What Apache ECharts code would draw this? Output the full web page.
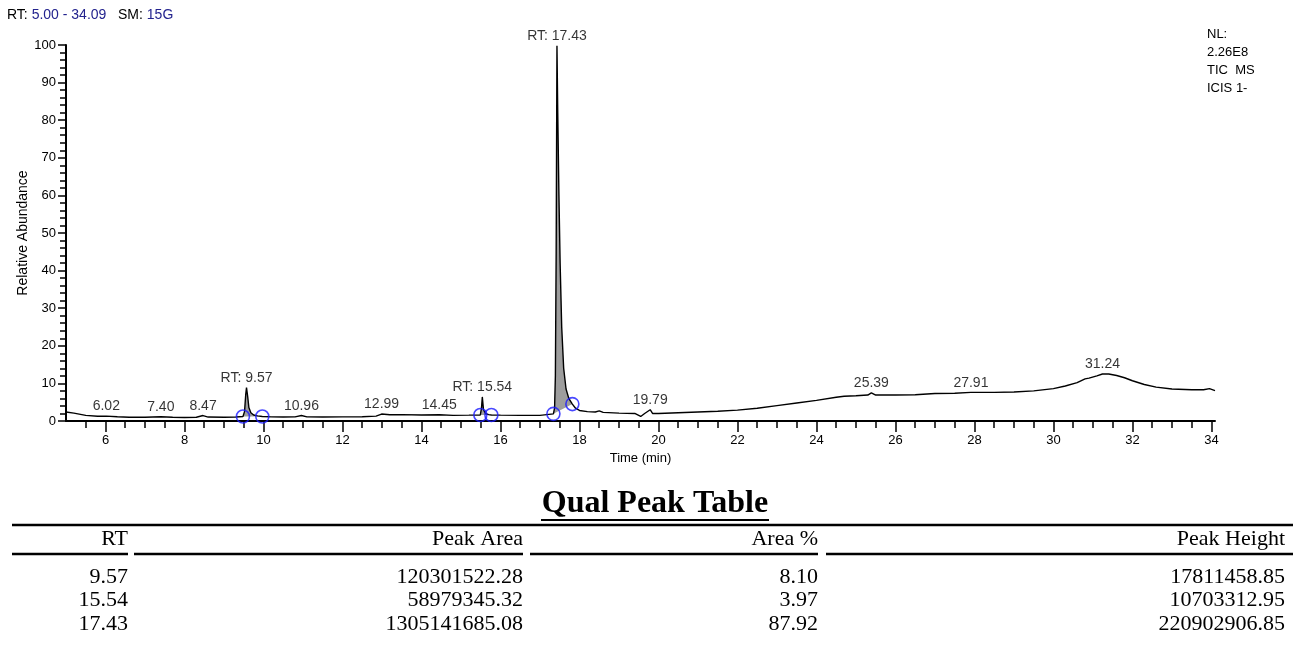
<!DOCTYPE html>
<html>
<head>
<meta charset="utf-8">
<script src="https://cdn.jsdelivr.net/npm/echarts@6/dist/echarts.min.js"></script>
<style>
  html, body { margin: 0; padding: 0; background: #fff; }
  #chart { width: 1293px; height: 646px; }
</style>
</head>
<body>
<div id="chart"></div>
<script>
// TIC trace: retention time (min) / relative abundance (%)
var rtTimes = [5.00, 5.2, 5.5, 5.8, 6.02, 6.3, 6.6, 7.0, 7.4, 7.7, 8.0, 8.3, 8.47, 8.6, 9.0, 9.3,
  9.48, 9.52, 9.55, 9.57, 9.60, 9.63, 9.68, 9.75, 9.85, 9.97,
  10.2, 10.5, 10.8, 10.96, 11.1, 11.5, 12.0, 12.5, 12.85, 12.99, 13.2, 13.5, 14.0, 14.45, 14.8, 15.2,
  15.49, 15.52, 15.54, 15.57, 15.62, 15.7, 15.77,
  16.0, 16.5, 17.0,
  17.34, 17.37, 17.39, 17.41, 17.43, 17.45, 17.48, 17.51, 17.55, 17.60, 17.66, 17.73, 17.82,
  17.9, 18.0, 18.2, 18.4, 18.5, 18.6, 19.0, 19.4, 19.55, 19.65, 19.79, 19.85, 20.0,
  20.5, 21.0, 21.5, 22.0, 22.5, 23.0, 23.5, 24.0, 24.5, 24.7, 25.0, 25.3, 25.39, 25.5, 26.0,
  26.5, 27.0, 27.5, 27.91, 28.5, 29.0, 29.5, 30.0, 30.3, 30.6, 30.8, 30.9, 31.1, 31.24, 31.4,
  31.6, 31.8, 32.0, 32.3, 32.6, 33.0, 33.5, 33.8, 33.95, 34.09];
var rtAbund = [2.4, 2.1, 1.5, 1.25, 1.3, 1.15, 1.0, 1.0, 1.15, 1.0, 0.95, 1.0, 1.45, 1.05, 1.0, 1.05,
  1.2, 2.5, 7.0, 8.9, 6.5, 3.6, 2.2, 1.6, 1.35, 1.2,
  1.1, 1.05, 1.1, 1.45, 1.1, 1.05, 1.1, 1.15, 1.3, 1.85, 1.65, 1.7, 1.6, 1.65, 1.5, 1.55,
  1.6, 3.5, 6.4, 3.0, 2.0, 1.7, 1.6,
  1.55, 1.5, 1.5,
  1.9, 3.5, 12, 45, 99.8, 82, 60, 42, 25, 14, 8.5, 6, 4.5,
  3.4, 2.8, 2.5, 2.4, 2.7, 2.3, 2.1, 2.0, 1.2, 2.0, 3.0, 2.0, 2.0,
  2.2, 2.4, 2.6, 2.9, 3.4, 4.1, 4.8, 5.5, 6.3, 6.6, 6.7, 6.9, 7.5, 6.9, 6.9,
  7.0, 7.3, 7.4, 7.6, 7.6, 7.7, 8.0, 8.6, 9.3, 10.2, 11.2, 11.4, 12.0, 12.5, 12.5,
  12.1, 11.5, 10.7, 9.7, 9.0, 8.5, 8.3, 8.3, 8.6, 8.1];

// integration windows of the quantified peaks
var peakStart = [9.48, 15.49, 17.34];
var peakEnd = [9.97, 15.77, 17.82];

// labelled apexes
var labelTimes = [6.02, 7.40, 8.47, 9.57, 10.96, 12.99, 14.45, 15.54, 17.43, 19.79, 25.39, 27.91, 31.24];
var labelTexts = ['6.02', '7.40', '8.47', 'RT: 9.57', '10.96', '12.99', '14.45', 'RT: 15.54',
  'RT: 17.43', '19.79', '25.39', '27.91', '31.24'];

var xMajorTicks = [6, 8, 10, 12, 14, 16, 18, 20, 22, 24, 26, 28, 30, 32, 34];
var xMinorTicks = [5.5, 6, 6.5, 7, 7.5, 8, 8.5, 9, 9.5, 10, 10.5, 11, 11.5, 12, 12.5, 13, 13.5, 14,
  14.5, 15, 15.5, 16, 16.5, 17, 17.5, 18, 18.5, 19, 19.5, 20, 20.5, 21, 21.5, 22, 22.5, 23, 23.5,
  24, 24.5, 25, 25.5, 26, 26.5, 27, 27.5, 28, 28.5, 29, 29.5, 30, 30.5, 31, 31.5, 32, 32.5, 33,
  33.5, 34];

// Qual Peak Table
var tableHeaders = ['RT', 'Peak Area', 'Area %', 'Peak Height'];
var tableRT = ['9.57', '15.54', '17.43'];
var tablePeakArea = ['120301522.28', '58979345.32', '1305141685.08'];
var tableAreaPct = ['8.10', '3.97', '87.92'];
var tablePeakHeight = ['17811458.85', '10703312.95', '220902906.85'];

function valueAt(t) {
  for (var i = 0; i < rtTimes.length; i++) {
    if (Math.abs(rtTimes[i] - t) < 1e-6) return rtAbund[i];
  }
  return 0;
}

var sans = '"Liberation Sans", Arial, sans-serif';
var serif = '"Liberation Serif", "Times New Roman", serif';

var trace = rtTimes.map(function (t, i) { return [t, rtAbund[i]]; });
var labelPts = labelTimes.map(function (t) { return [t, valueAt(t)]; });
var bounds = [];
peakStart.forEach(function (s, i) {
  bounds.push([s, valueAt(s)]);
  bounds.push([peakEnd[i], valueAt(peakEnd[i])]);
});

// table graphics
var colRight = [128, 523, 818, 1285];
var rowY = [577, 600, 624];
var cols = [tableRT, tablePeakArea, tableAreaPct, tablePeakHeight];
var graphics = [
  {
    type: 'text', left: 7, top: 8,
    style: {
      text: '{k|RT:} {v|5.00 - 34.09}   {k|SM:} {v|15G}',
      font: '14px ' + sans,
      rich: {
        k: { fill: '#000', font: '14px ' + sans },
        v: { fill: '#23238e', font: '14px ' + sans }
      }
    }
  },
  {
    type: 'text', x: 1207, y: 25,
    style: { text: 'NL:\n2.26E8\nTIC  MS\nICIS 1-', font: '13px ' + sans, fill: '#000', lineHeight: 18 }
  },
  {
    type: 'text', x: 655, y: 504,
    style: { text: 'Qual Peak Table', font: 'bold 32px ' + serif, fill: '#000', align: 'center', verticalAlign: 'middle' }
  },
  { type: 'line', shape: { x1: 541, y1: 520, x2: 769, y2: 520 }, style: { stroke: '#000', lineWidth: 2 } },
  { type: 'line', shape: { x1: 12, y1: 525, x2: 1293, y2: 525 }, style: { stroke: '#000', lineWidth: 2.5 } },
  { type: 'line', shape: { x1: 12, y1: 554, x2: 128, y2: 554 }, style: { stroke: '#000', lineWidth: 2.5 } },
  { type: 'line', shape: { x1: 134, y1: 554, x2: 523, y2: 554 }, style: { stroke: '#000', lineWidth: 2.5 } },
  { type: 'line', shape: { x1: 530, y1: 554, x2: 818, y2: 554 }, style: { stroke: '#000', lineWidth: 2.5 } },
  { type: 'line', shape: { x1: 826, y1: 554, x2: 1293, y2: 554 }, style: { stroke: '#000', lineWidth: 2.5 } }
];
tableHeaders.forEach(function (h, c) {
  graphics.push({
    type: 'text', x: colRight[c], y: 539,
    style: { text: h, font: '22px ' + serif, fill: '#000', align: 'right', verticalAlign: 'middle' }
  });
  cols[c].forEach(function (v, r) {
    graphics.push({
      type: 'text', x: colRight[c], y: rowY[r],
      style: { text: v, font: '22px ' + serif, fill: '#000', align: 'right', verticalAlign: 'middle' }
    });
  });
});

var myChart = echarts.init(document.getElementById('chart'));
myChart.setOption({
  animation: false,
  textStyle: { fontFamily: sans },
  grid: { left: 66, right: 78, top: 45, bottom: 225 },
  graphic: graphics,
  xAxis: [
    {
      type: 'value', min: 5, max: 34.09, position: 'bottom',
      name: 'Time (min)', nameLocation: 'middle', nameGap: 31,
      nameTextStyle: { color: '#000', fontSize: 13, fontFamily: sans },
      axisLine: { show: true, lineStyle: { color: '#000', width: 2 } },
      axisTick: { show: true, customValues: xMinorTicks, length: 7, lineStyle: { color: '#000', width: 1.5 } },
      axisLabel: { show: false },
      splitLine: { show: false }
    },
    {
      type: 'value', min: 5, max: 34.09, position: 'bottom',
      axisLine: { show: false },
      axisTick: { show: true, customValues: xMajorTicks, length: 11, lineStyle: { color: '#000', width: 1.5 } },
      axisLabel: { customValues: xMajorTicks, margin: 13, color: '#000', fontSize: 13, fontFamily: sans },
      splitLine: { show: false }
    }
  ],
  yAxis: {
    type: 'value', min: 0, max: 100, interval: 10,
    name: 'Relative Abundance', nameLocation: 'middle', nameGap: 36, nameMoveOverlap: false,
    nameTextStyle: { color: '#000', fontSize: 14, fontFamily: sans },
    axisLine: { show: true, lineStyle: { color: '#000', width: 2 } },
    axisTick: { show: true, length: 8, lineStyle: { color: '#000', width: 1.5 } },
    minorTick: { show: true, splitNumber: 5, length: 6, lineStyle: { color: '#000', width: 1.5 } },
    axisLabel: { margin: 10, color: '#000', fontSize: 13, fontFamily: sans },
    splitLine: { show: false }
  },
  series: [
    {
      // shaded integrated area of each peak, closed by its straight baseline
      type: 'custom',
      z: 2,
      data: peakStart.map(function (s, i) { return [s, peakEnd[i]]; }),
      renderItem: function (params, api) {
        var s = api.value(0), e = api.value(1);
        var pts = [];
        for (var i = 0; i < rtTimes.length; i++) {
          if (rtTimes[i] >= s - 1e-6 && rtTimes[i] <= e + 1e-6) {
            pts.push(api.coord([rtTimes[i], rtAbund[i]]));
          }
        }
        return { type: 'polygon', shape: { points: pts }, style: { fill: '#9d9d9d' } };
      }
    },
    {
      type: 'line',
      z: 3,
      data: trace,
      showSymbol: false,
      symbol: 'none',
      lineStyle: { color: '#000', width: 1.4 }
    },
    {
      type: 'scatter',
      z: 4,
      data: bounds,
      symbol: 'circle',
      symbolSize: 13,
      itemStyle: { color: 'rgba(0,0,0,0)', borderColor: '#1a1aff', borderWidth: 1.6 }
    },
    {
      type: 'scatter',
      z: 5,
      data: labelPts,
      symbolSize: 1,
      itemStyle: { color: 'rgba(0,0,0,0)' },
      label: {
        show: true, position: 'top', distance: 2,
        color: '#000', fontSize: 14, fontFamily: sans,
        formatter: function (p) { return labelTexts[p.dataIndex]; }
      }
    }
  ]
});
</script>
</body>
</html>
